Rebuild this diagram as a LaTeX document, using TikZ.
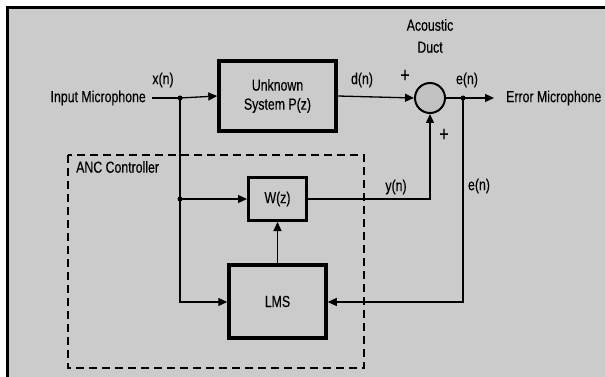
\documentclass[tikz,border=0pt]{standalone}
\usepackage{fontspec}
\setmainfont{Liberation Sans}[FakeStretch=0.77,FakeBold=0.3]
\usetikzlibrary{arrows.meta}
\definecolor{bggray}{HTML}{CBCBCB}
\definecolor{sumgray}{HTML}{C2C2C2}
\begin{document}
\begin{tikzpicture}[x=1pt,y=-1pt,
  every node/.style={font=\fontsize{16}{19}\selectfont, inner sep=0pt},
  blk/.style={draw, line width=3.5pt, align=center},
  wire/.style={line width=1.3pt},
  arr/.style={wire, -{Triangle[length=9pt,width=8pt]}},
  dot/.style={circle, fill, minimum size=5pt, inner sep=0pt},
  sign/.style={font=\fontsize{21}{21}\selectfont}
]
\useasboundingbox (0,0) rectangle (605,377);
\fill[white] (0,0) rectangle (605,377);
\fill[bggray] (7,7) rectangle (605,377);
\draw[line width=2.2pt] (7.5,377) -- (7.5,7.5) -- (605,7.5);

% dashed controller box
\draw[line width=1.3pt, dash pattern=on 8pt off 5pt] (68,155) rectangle (364,368);
\node[anchor=west] (anc) at (76,167) {ANC Controller};

% blocks
\node[blk, minimum width=117pt, minimum height=70pt] (P) at (277.5,96) {Unknown\\System P(z)};
\node[blk, line width=3pt, minimum width=58pt, minimum height=43pt] (W) at (277.5,199) {W(z)};
\node[blk, minimum width=97pt, minimum height=73pt] (L) at (277.5,301.5) {LMS};
\node[circle, draw, line width=2pt, fill=sumgray, minimum size=30pt] (S) at (430,98) {};

% text nodes
\node[anchor=east] (in) at (146,98) {Input Microphone};
\node[anchor=west] (out) at (506,98) {Error Microphone};
\node[align=center, font=\fontsize{16}{22}\selectfont] (duct) at (430,36) {Acoustic\\Duct};
\node (xn) at (163,80) {x(n)};
\node (dn) at (362,80) {d(n)};
\node (en1) at (467,80) {e(n)};
\node (yn) at (396,187) {y(n)};
\node (en2) at (479,186) {e(n)};
\node[sign] (p1) at (405,76) {+};
\node[sign] (p2) at (444,135) {+};

% junctions and corners
\node[dot] (j1) at (180,98) {};
\node[dot] (j3) at (180,199) {};
\node[dot] (j2) at (463,98) {};
\coordinate (c1) at (180,302);
\coordinate (c2) at (430,199);
\coordinate (c3) at (463,302);
\coordinate (eo) at (494,98);

% connectors
\draw[wire] (in.east) ++(6,0) -- (j1.center);
\draw[arr] (j1.center) -- (P.west);
\draw[arr] (P.east) -- (S.west);
\draw[wire] (S.east) -- (j2.center);
\draw[arr] (j2.center) -- (eo);
\draw[wire] (j1.center) -- (j3.center);
\draw[arr] (j3.center) -- (W.west);
\draw[arr] (j3.center) -- (c1) -- (L.west |- c1);
\draw[arr] (L.north) -- (W.south);
\draw[arr] (W.east) -- (c2) -- (S.south);
\draw[arr] (j2.center) -- (c3) -- (L.east |- c3);
\end{tikzpicture}
\end{document}
